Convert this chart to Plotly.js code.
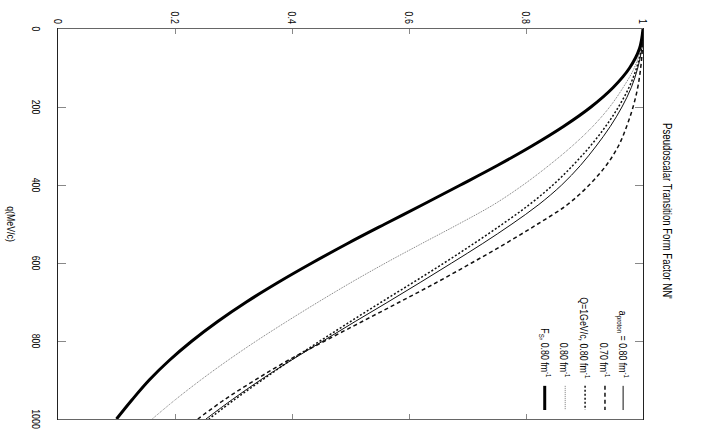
<!DOCTYPE html>
<html>
<head>
<meta charset="utf-8">
<script src="https://cdn.plot.ly/plotly-3.0.1.min.js"></script>
<style>
html, body { margin:0; padding:0; overflow:hidden; width:702px; height:436px; background:#fff; }
/* chart is drawn upright (436 x 702) and turned a quarter clockwise like the original figure */
#plotArea { position:absolute; left:0; top:0; width:436px; height:702px;
  transform-origin:0 0; transform:translateX(702px) rotate(90deg); }
</style>
</head>
<body>
<div id="plotArea"></div>
<script>
var FONT = "'Liberation Sans', Arial, sans-serif";

// momentum transfer q (MeV/c)
var q = [0, 50, 100, 150, 200, 250, 300, 350, 400, 450, 500,
         550, 600, 650, 700, 750, 800, 850, 900, 950, 1000];

// form factor values
var aProton080 = [1.000, 0.998, 0.991, 0.980, 0.964, 0.944, 0.920, 0.893, 0.861, 0.822, 0.776,
                  0.726, 0.673, 0.619, 0.564, 0.508, 0.453, 0.398, 0.346, 0.298, 0.253];
var aProton070 = [1.000, 0.999, 0.996, 0.991, 0.983, 0.972, 0.958, 0.937, 0.908, 0.871, 0.820,
                  0.765, 0.707, 0.647, 0.584, 0.520, 0.456, 0.393, 0.337, 0.285, 0.239];
var q1GeV080   = [1.000, 0.997, 0.989, 0.976, 0.958, 0.936, 0.910, 0.880, 0.846, 0.806, 0.760,
                  0.711, 0.660, 0.607, 0.553, 0.500, 0.448, 0.397, 0.349, 0.302, 0.258];
var other080   = [1.000, 0.996, 0.985, 0.966, 0.943, 0.914, 0.879, 0.839, 0.795, 0.745, 0.685,
                  0.622, 0.560, 0.501, 0.445, 0.391, 0.339, 0.290, 0.244, 0.201, 0.161];
var fs080      = [1.000, 0.994, 0.977, 0.949, 0.911, 0.864, 0.810, 0.751, 0.688, 0.624, 0.559,
                  0.495, 0.434, 0.376, 0.322, 0.273, 0.229, 0.190, 0.156, 0.127, 0.100];

var labels = ["a<sub>proton</sub> = 0.80 fm<sup>-1</sup>",
              "0.70 fm<sup>-1</sup>",
              "Q=1GeV/c, 0.80 fm<sup>-1</sup>",
              "0.80 fm<sup>-1</sup>",
              "F<sub>S</sub>, 0.80 fm<sup>-1</sup>"];
var series = [aProton080, aProton070, q1GeV080, other080, fs080];
var styles = [
  {color:"#111", width:1,   dash:"solid"},
  {color:"#111", width:1.5, dash:"4px,3px"},
  {color:"#111", width:1.5, dash:"2px,2px"},
  {color:"#777", width:1,   dash:"1px,1px"},
  {color:"#000", width:3,   dash:"solid"}
];

var data = series.map(function(s, i){
  return {x:q, y:s, type:"scatter", mode:"lines", name:labels[i],
          line:{color:styles[i].color, width:styles[i].width, dash:styles[i].dash, shape:"spline"}};
});

// hand-made key: text on the left, sample line on the right
var rowY = [0.966, 0.935, 0.901, 0.867, 0.832];
var annotations = [], shapes = [];
labels.forEach(function(t, i){
  annotations.push({xref:"paper", yref:"paper", x:0.9, y:rowY[i], xanchor:"right", yanchor:"middle",
                    align:"right", text:t, showarrow:false, font:{family:FONT, size:11, color:"#000"}});
  shapes.push({type:"line", xref:"paper", yref:"paper", x0:0.915, x1:0.977, y0:rowY[i], y1:rowY[i],
               line:{color:styles[i].color, width:styles[i].width, dash:styles[i].dash}});
});

var layout = {
  width:436, height:702,
  margin:{l:29, r:17, t:59, b:58},
  paper_bgcolor:"#fff", plot_bgcolor:"#fff",
  showlegend:false,
  font:{family:FONT, size:11, color:"#000"},
  title:{text:"Pseudoscalar Transition Form Factor NN'", x:0.484, xanchor:"center",
         y:0.95, yanchor:"middle", font:{family:FONT, size:12}},
  xaxis:{range:[0,1000], dtick:200, showgrid:false, zeroline:false,
         showline:true, linecolor:"#222", linewidth:1, mirror:"ticks",
         ticks:"inside", ticklen:8, tickcolor:"#888", ticklabelstandoff:12,
         title:{text:"q(MeV/c)", standoff:16, font:{family:FONT, size:11}}},
  yaxis:{range:[0,1], dtick:0.2, showgrid:false, zeroline:false,
         showline:true, linecolor:"#666", linewidth:1, mirror:"ticks",
         ticks:"inside", ticklen:5, tickcolor:"#888", ticklabelstandoff:2},
  annotations:annotations,
  shapes:shapes
};

Plotly.newPlot("plotArea", data, layout, {staticPlot:true, responsive:false}).then(function(gd){
  // the original lettering is a narrow Helvetica: squeeze the text horizontally
  gd.querySelectorAll("text").forEach(function(t){
    var w = t.getComputedTextLength();
    if (w > 0) {
      t.setAttribute("textLength", (w * 0.8).toFixed(1));
      t.setAttribute("lengthAdjust", "spacingAndGlyphs");
    }
  });
});
</script>
</body>
</html>
